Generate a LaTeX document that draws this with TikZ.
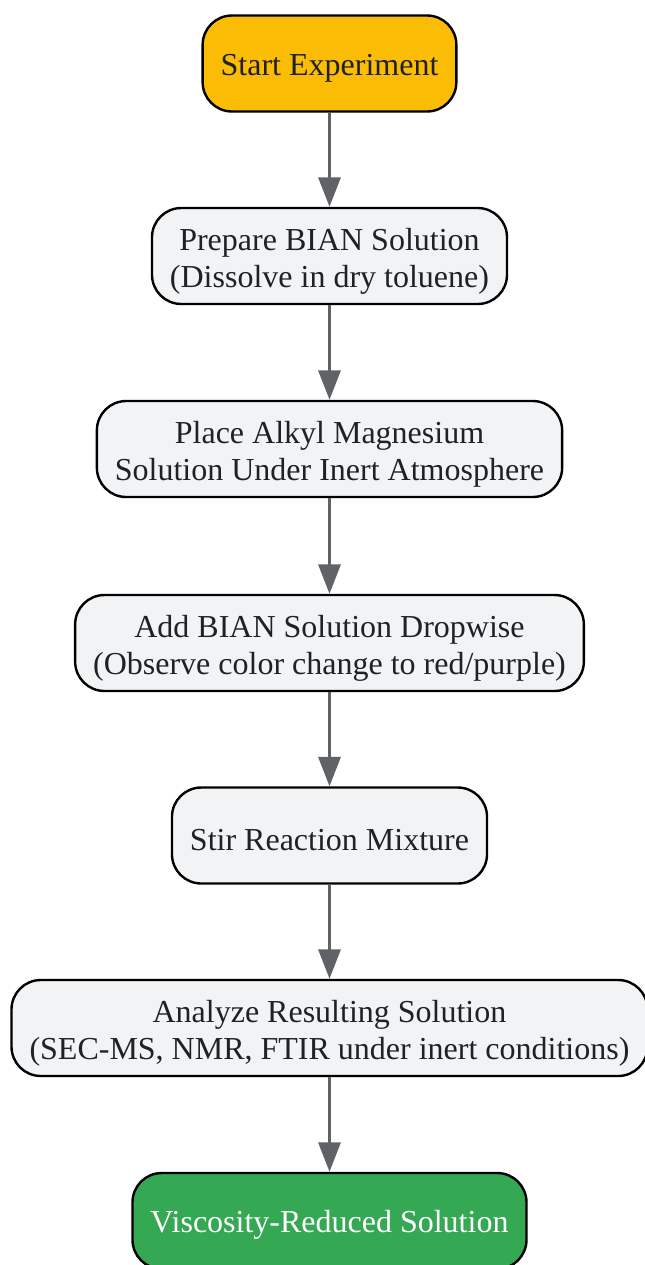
\documentclass[tikz,border=0pt]{standalone}
\usepackage{fontspec}
\setmainfont{Liberation Serif}
\usepackage{xcolor}
\usetikzlibrary{arrows.meta,positioning}
\definecolor{boxgray}{HTML}{F1F3F4}
\definecolor{startyellow}{HTML}{FBBC05}
\definecolor{endgreen}{HTML}{34A853}
\definecolor{arrowgray}{HTML}{5F6368}
\definecolor{inkdark}{HTML}{202124}

\begin{document}
\begin{tikzpicture}[x=0.75pt,y=0.75pt,yscale=-1,xscale=1,
  box/.style={draw=black, line width=1.8pt, rounded corners=22pt, fill=boxgray, text=inkdark,
    minimum height=72pt, inner xsep=13.5pt, align=center, font=\fontsize{24}{27.75}\selectfont,
    text height=23pt},
  twoline/.style={text height=53pt},
  flow/.style={draw=arrowgray, line width=2.25pt, -{Triangle[width=16.5pt,length=22pt]}}]
\useasboundingbox (0,0) rectangle (645,1265);

% Steps
\node [box, fill=startyellow] (start) at (329.5,63.5) {Start Experiment};
\node [box, twoline] (prep) at (329.5,256) {Prepare BIAN Solution\\(Dissolve in dry toluene)};
\node [box, twoline] (place) at (329.5,449) {Place Alkyl Magnesium\\Solution Under Inert Atmosphere};
\node [box, twoline] (add) at (329.5,643) {Add BIAN Solution Dropwise\\(Observe color change to red/purple)};
\node [box] (stir) at (329.5,835.5) {Stir Reaction Mixture};
\node [box, twoline] (analyze) at (329.5,1028) {Analyze Resulting Solution\\(SEC-MS, NMR, FTIR under inert conditions)};
\node [box, fill=endgreen, text=white] (final) at (329.5,1221) {Viscosity-Reduced Solution};

% Arrows
\draw [flow] (start) -- (prep);
\draw [flow] (prep) -- (place);
\draw [flow] (place) -- (add);
\draw [flow] (add) -- (stir);
\draw [flow] (stir) -- (analyze);
\draw [flow] (analyze) -- (final);

\end{tikzpicture}
\end{document}
